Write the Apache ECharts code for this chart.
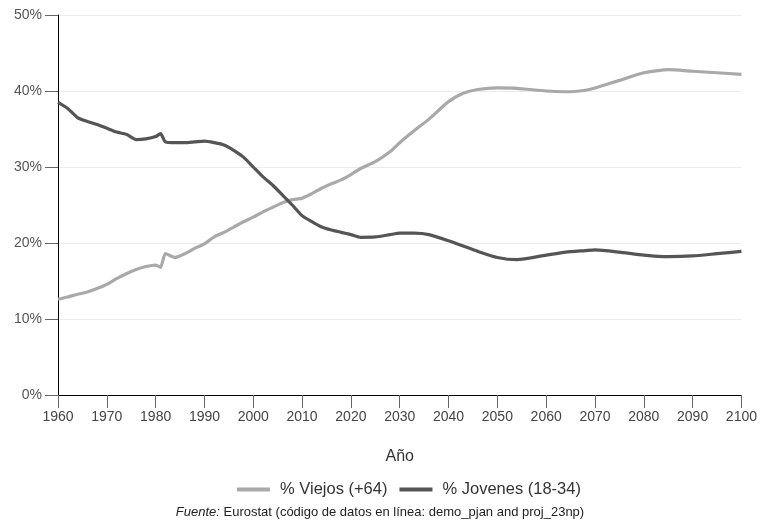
<!DOCTYPE html>
<html><head><meta charset="utf-8">
<script src="https://cdn.jsdelivr.net/npm/echarts@6/dist/echarts.min.js"></script>
<style>html,body{margin:0;padding:0;background:#fff}#c{width:760px;height:527px}</style>
</head><body><div id="c"></div>
<script>
const years = [1960,1962,1964,1966,1968,1970,1972,1974,1976,1978,1980,1981,1982,1984,1986,1988,1990,1992,1994,1996,1998,2000,2002,2004,2006,2008,2010,2012,2014,2016,2018,2020,2022,2025,2028,2030,2033,2036,2040,2043,2046,2050,2054,2060,2064,2068,2070,2075,2080,2085,2090,2095,2100];
const viejos = [12.6,12.9,13.25,13.55,14.0,14.55,15.3,15.95,16.5,16.9,17.1,16.8,18.6,18.1,18.6,19.3,19.9,20.8,21.4,22.1,22.8,23.4,24.1,24.7,25.3,25.7,25.9,26.5,27.2,27.8,28.3,29.0,29.8,30.7,32.0,33.2,34.8,36.3,38.6,39.7,40.2,40.4,40.35,40.0,39.9,40.1,40.4,41.4,42.4,42.8,42.6,42.4,42.2];
const jovenes = [38.5,37.7,36.5,36.0,35.6,35.1,34.6,34.3,33.6,33.7,34.0,34.4,33.3,33.2,33.2,33.3,33.4,33.2,32.9,32.2,31.3,30.0,28.7,27.6,26.3,25.0,23.6,22.8,22.1,21.7,21.4,21.1,20.75,20.8,21.1,21.3,21.3,21.1,20.3,19.6,18.9,18.1,17.8,18.4,18.8,19.0,19.1,18.8,18.4,18.2,18.3,18.6,18.9];
const yTicks = [0,10,20,30,40,50];
const seriesNames = ['% Viejos (+64)','% Jovenes (18-34)'];

const chart = echarts.init(document.getElementById('c'));
const font = 'Liberation Sans, Arial, sans-serif';
chart.setOption({
  animation:false,
  textStyle:{fontFamily:font},
  grid:{left:58,right:18,top:15,bottom:132},
  legend:{
    data:seriesNames, top:476, left:232, icon:'rect', itemWidth:33, itemHeight:4, itemGap:12,
    textStyle:{fontSize:16.5,color:'#333',fontFamily:font,padding:[0,0,0,5]}
  },
  xAxis:{
    type:'value', min:1960, max:2100, interval:10,
    name:'Año', nameLocation:'middle', nameGap:54,
    nameTextStyle:{fontSize:16,color:'#333',fontFamily:font},
    axisLine:{lineStyle:{color:'#000',width:1}},
    axisTick:{show:true,length:13,lineStyle:{color:'#666'}},
    axisLabel:{fontSize:14,color:'#444',margin:15,formatter:v=>String(v)},
    splitLine:{show:false}
  },
  yAxis:{
    type:'value', min:yTicks[0], max:yTicks[yTicks.length-1], interval:10,
    axisLine:{show:true,lineStyle:{color:'#000',width:1}},
    axisTick:{show:true,length:13,lineStyle:{color:'#666'}},
    axisLabel:{fontSize:14,color:'#555',margin:16,formatter:v=>v+'%'},
    splitLine:{show:true,lineStyle:{color:'#ebebeb',width:1}}
  },
  series:[
    {name:seriesNames[0],type:'line',showSymbol:false,smooth:0.2,
     lineStyle:{color:'#a9a9a9',width:3.2},itemStyle:{color:'#a9a9a9'},
     data:years.map((y,i)=>[y,viejos[i]])},
    {name:seriesNames[1],type:'line',showSymbol:false,smooth:0.2,
     lineStyle:{color:'#555555',width:3.2},itemStyle:{color:'#555555'},
     data:years.map((y,i)=>[y,jovenes[i]])}
  ],
  graphic:[{
    type:'text', left:'center', top:506,
    style:{
      text:'{i|Fuente:} Eurostat (código de datos en línea: demo_pjan and proj_23np)',
      rich:{i:{fontStyle:'italic',fontSize:13,fill:'#222',fontFamily:font}},
      fontSize:13, fill:'#222', fontFamily:font
    }
  }]
});
</script></body></html>
